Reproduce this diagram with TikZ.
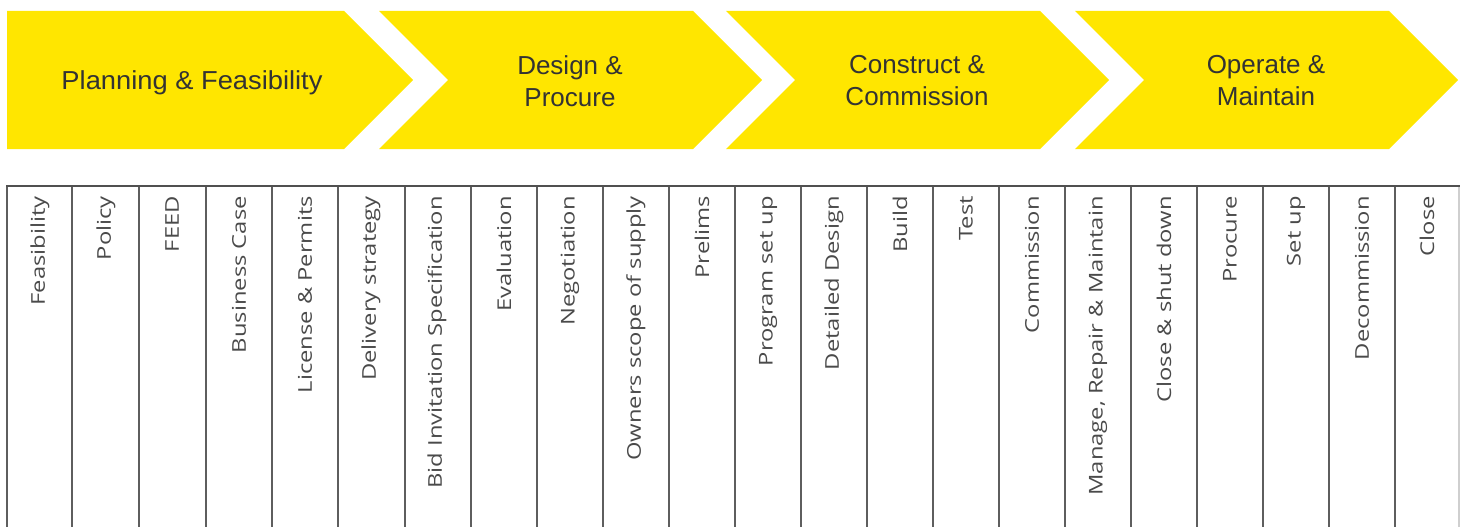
\documentclass[tikz,border=0pt]{standalone}
\usepackage{fontspec}
\setmainfont{Liberation Sans}
\newfontfamily\taskfont{Open Sans}
\definecolor{eyyellow}{HTML}{FFE600}
\definecolor{stagetext}{HTML}{333333}
\definecolor{tasktext}{HTML}{4A4A4A}
\definecolor{gridline}{HTML}{5E5E5E}
\definecolor{edgeline}{HTML}{CFCFCF}
\newcommand{\tasklabel}[1]{\scalebox{1.25}[1]{#1}}
\tikzset{
  stage/.style={text=stagetext, align=center, inner sep=0pt,
    font=\fontsize{26}{32}\selectfont},
  task/.style={text=tasktext, rotate=90, anchor=east, inner sep=0pt,
    font=\taskfont\fontsize{19}{22}\selectfont},
  divider/.style={draw=gridline, line width=2pt}
}
\begin{document}
\begin{tikzpicture}[x=1pt, y=-1pt]
\useasboundingbox (0,0) rectangle (1466,527);
% stage chevrons
\fill[eyyellow] (7,11) -- (344,11) -- (413,80) -- (344,149) -- (7,149) -- cycle;
\fill[eyyellow] (379,11) -- (693,11) -- (762,80) -- (693,149) -- (379,149) -- (448,80) -- cycle;
\fill[eyyellow] (726,11) -- (1040,11) -- (1109,80) -- (1040,149) -- (726,149) -- (795,80) -- cycle;
\fill[eyyellow] (1075,11) -- (1389,11) -- (1458,80) -- (1389,149) -- (1075,149) -- (1144,80) -- cycle;
\node[stage] (plan) at (192,83) {\scalebox{1.05}[1]{Planning \& Feasibility}};
\node[stage] (design) at (570,81) {Design \&\\Procure};
\node[stage] (build) at (917,81) {Construct \&\\Commission};
\node[stage] (operate) at (1266,81) {Operate \&\\Maintain};
% task table
\foreach \x in {7,72,139,206,272,338,405,471,537,603,669,735,801,867,933,999,1065,1131,1197,1263,1329,1395}
  \draw[divider] (\x,186) -- (\x,530);
\draw[edgeline, line width=2pt] (1459,186) -- (1459,530);
\draw[draw=gridline!85!black, line width=2pt] (6,186) -- (1460,186);
\node[task] (feas) at (40,196) {\tasklabel{Feasibility}};
\node[task] (policy) at (106,196) {\tasklabel{Policy}};
\node[task] (feed) at (172,196) {\tasklabel{FEED}};
\node[task] (bcase) at (239,196) {\tasklabel{Business Case}};
\node[task] (permits) at (305,196) {\tasklabel{License \& Permits}};
\node[task] (delivery) at (371,196) {\tasklabel{Delivery strategy}};
\node[task] (bid) at (437,196) {\tasklabel{Bid Invitation Specification}};
\node[task] (eval) at (504,196) {\tasklabel{Evaluation}};
\node[task] (nego) at (570,196) {\tasklabel{Negotiation}};
\node[task] (scope) at (636,196) {\tasklabel{Owners scope of supply}};
\node[task] (prelims) at (702,196) {\tasklabel{Prelims}};
\node[task] (program) at (768,196) {\tasklabel{Program set up}};
\node[task] (detail) at (834,196) {\tasklabel{Detailed Design}};
\node[task] (buildtask) at (900,196) {\tasklabel{Build}};
\node[task] (test) at (966,196) {\tasklabel{Test}};
\node[task] (commission) at (1032,196) {\tasklabel{Commission}};
\node[task] (manage) at (1098,196) {\tasklabel{Manage, Repair \& Maintain}};
\node[task] (shutdown) at (1164,196) {\tasklabel{Close \& shut down}};
\node[task] (procure) at (1230,196) {\tasklabel{Procure}};
\node[task] (setup) at (1296,196) {\tasklabel{Set up}};
\node[task] (decom) at (1362,196) {\tasklabel{Decommission}};
\node[task] (close) at (1427,196) {\tasklabel{Close}};
\end{tikzpicture}
\end{document}
